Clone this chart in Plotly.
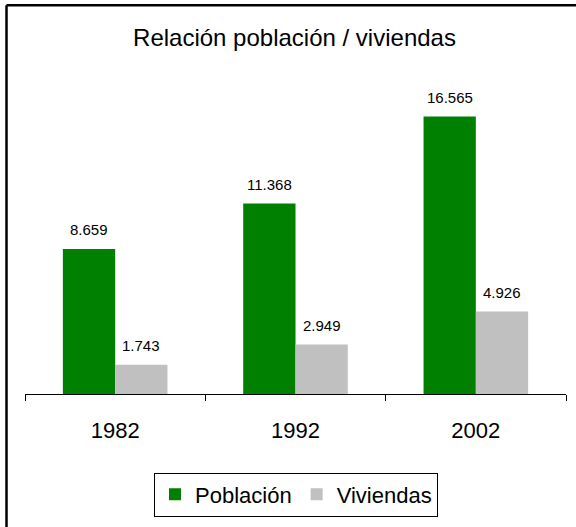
import plotly.graph_objects as go

years = ["1982", "1992", "2002"]
poblacion = [8659, 11368, 16565]
viviendas = [1743, 2949, 4926]
poblacion_labels = ["8.659", "11.368", "16.565"]
viviendas_labels = ["1.743", "2.949", "4.926"]

GREEN = "#008000"
GREY = "#C0C0C0"
FONT = "Liberation Sans, Arial, sans-serif"

W, H = 576, 527
ML, MR, MT, MB = 25, 10, 59, 131
PW = W - ML - MR
PH = H - MT - MB
BARGAP = 0.42

fig = go.Figure()
fig.add_trace(go.Bar(name="Población", x=years, y=poblacion, marker_color=GREEN,
                     marker_line_width=0))
fig.add_trace(go.Bar(name="Viviendas", x=years, y=viviendas, marker_color=GREY,
                     marker_line_width=0))

bar_half = PW / 3 * (1 - BARGAP) / 4
annotations = []
for i, (v, t) in enumerate(zip(poblacion, poblacion_labels)):
    annotations.append(dict(x=i, y=v, text=t, showarrow=False, xshift=-bar_half,
                            yshift=19, yanchor="middle",
                            font=dict(size=15, family=FONT, color="black")))
for i, (v, t) in enumerate(zip(viviendas, viviendas_labels)):
    annotations.append(dict(x=i, y=v, text=t, showarrow=False, xshift=bar_half,
                            yshift=19, yanchor="middle",
                            font=dict(size=15, family=FONT, color="black")))

def px_x(px):
    return (px - ML) / PW

def px_y(py):
    return (H - MB - py) / PH

shapes = [
    dict(type="line", xref="paper", yref="paper", x0=px_x(6.5), x1=px_x(W + 5),
         y0=px_y(5), y1=px_y(5), line=dict(color="black", width=2.5)),
    dict(type="line", xref="paper", yref="paper", x0=px_x(6.5), x1=px_x(6.5),
         y0=px_y(5), y1=px_y(H + 5), line=dict(color="black", width=2.5)),
]

fig.update_layout(
    width=W, height=H,
    margin=dict(l=ML, r=MR, t=MT, b=MB),
    paper_bgcolor="white", plot_bgcolor="white",
    barmode="group", bargap=BARGAP, bargroupgap=0,
    font=dict(family=FONT, color="black"),
    title=dict(text="Relación población / viviendas", x=294.5 / W,
               xanchor="center", y=1 - 38 / H, yanchor="middle",
               font=dict(size=24, family=FONT, color="black")),
    xaxis=dict(type="category", range=[-0.5, len(years) - 0.5], showline=True,
               linecolor="black", linewidth=1,
               ticks="outside", tickson="boundaries", ticklen=6, tickcolor="black",
               tickwidth=1, tickangle=0,
               tickfont=dict(size=22, family=FONT, color="black"),
               ticklabelstandoff=17, showgrid=False, zeroline=False),
    yaxis=dict(range=[0, 20000], visible=False, showgrid=False, zeroline=False),
    legend=dict(orientation="h", x=px_x(296), xanchor="center", y=px_y(475),
                yanchor="top", bordercolor="black", borderwidth=1,
                font=dict(size=22, family=FONT, color="black"),
                bgcolor="white", itemclick=False),
    annotations=annotations,
    shapes=shapes,
    showlegend=True,
)

fig.write_html("out.html", config={"displayModeBar": False},
               post_script="document.body.style.margin='0';document.body.style.overflow='hidden';")
